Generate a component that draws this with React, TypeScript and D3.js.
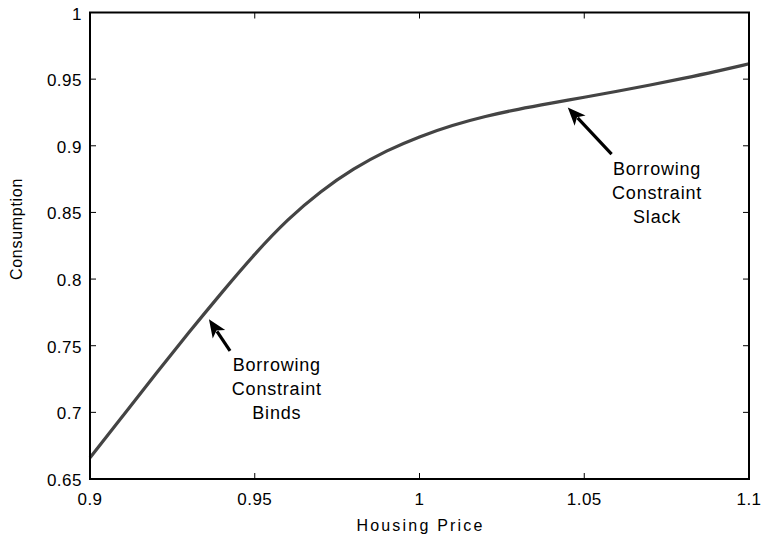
import React from "react";
import * as d3 from "d3";

const housingPrice = [0.90, 0.91, 0.92, 0.93, 0.94, 0.95, 0.96, 0.97, 0.98, 0.99, 1.00, 1.01, 1.02, 1.03, 1.04, 1.05, 1.06, 1.07, 1.08, 1.09, 1.10];
const consumption = [0.666, 0.6975, 0.729, 0.760, 0.790, 0.819, 0.845, 0.866, 0.883, 0.8965, 0.907, 0.9155, 0.9222, 0.9275, 0.932, 0.9364, 0.9409, 0.9456, 0.9505, 0.9557, 0.9615];
const xTicks = [0.9, 0.95, 1, 1.05, 1.1];
const yTicks = [0.65, 0.7, 0.75, 0.8, 0.85, 0.9, 0.95, 1];

const annotations = [
  { lines: ["Borrowing", "Constraint", "Binds"], tip: [0.9361, 0.7698], tail: [0.9425, 0.7462], text: [0.9567, 0.7312] },
  { lines: ["Borrowing", "Constraint", "Slack"], tip: [1.045, 0.9288], tail: [1.0583, 0.8938], text: [1.0721, 0.878] },
];

const W = 761, H = 535;
const M = { left: 90, right: 749, top: 12.5, bottom: 479 };
const FONT = "Liberation Sans, Arial, Helvetica, sans-serif";

export default function App() {
  const x = d3.scaleLinear().domain([0.9, 1.1]).range([M.left, M.right]);
  const y = d3.scaleLinear().domain([0.65, 1]).range([M.bottom, M.top]);
  const pts: [number, number][] = housingPrice.map((h, i) => [h, consumption[i]]);
  const line = d3.line<[number, number]>().x(d => x(d[0])).y(d => y(d[1])).curve(d3.curveBasis);
  const tl = 6;

  return (
    <svg width={W} height={H} style={{ position: "absolute", left: 0, top: 0, background: "#fff" }} fontFamily={FONT}>
      <rect x={0} y={0} width={W} height={H} fill="#fff" />
      {xTicks.map(t => (
        <g key={"x" + t}>
          <line x1={x(t)} x2={x(t)} y1={M.bottom} y2={M.bottom - tl} stroke="#000" strokeWidth={1} />
          <line x1={x(t)} x2={x(t)} y1={M.top} y2={M.top + tl} stroke="#000" strokeWidth={1} />
          <text x={x(t)} y={505} textAnchor="middle" fontSize={17} letterSpacing={0.5} fill="#000">{String(t)}</text>
        </g>
      ))}
      {yTicks.map(t => (
        <g key={"y" + t}>
          <line x1={M.left} x2={M.left + tl} y1={y(t)} y2={y(t)} stroke="#000" strokeWidth={1} />
          <line x1={M.right} x2={M.right - tl} y1={y(t)} y2={y(t)} stroke="#000" strokeWidth={1} />
          <text x={82} y={y(t) + 7} textAnchor="end" fontSize={17} letterSpacing={0.5} fill="#000">{String(t)}</text>
        </g>
      ))}
      <path d={line(pts) || ""} fill="none" stroke="#444" strokeWidth={3.2} />
      <rect x={M.left} y={M.top} width={M.right - M.left} height={M.bottom - M.top} fill="none" stroke="#000" strokeWidth={2} />
      <text x={(M.left + M.right) / 2 + 1} y={531} textAnchor="middle" fontSize={16} letterSpacing={2.2} fill="#000">Housing Price</text>
      <text transform={`translate(22,229) rotate(-90)`} textAnchor="middle" fontSize={16} letterSpacing={0.7} fill="#000">Consumption</text>
      {annotations.map((a, i) => {
        const tx = x(a.tip[0]), ty = y(a.tip[1]);
        const sx = x(a.tail[0]), sy = y(a.tail[1]);
        const dx = tx - sx, dy = ty - sy;
        const len = Math.hypot(dx, dy);
        const ux = dx / len, uy = dy / len;
        const hl = 18, hw = 7.5;
        const bx = tx - ux * hl, by = ty - uy * hl;
        const px = -uy, py = ux;
        const head = `M${tx},${ty}L${bx + px * hw},${by + py * hw}L${tx - ux * hl * 0.75},${ty - uy * hl * 0.75}L${bx - px * hw},${by - py * hw}Z`;
        return (
          <g key={i}>
            <line x1={sx} y1={sy} x2={tx - ux * hl * 0.8} y2={ty - uy * hl * 0.8} stroke="#000" strokeWidth={3.2} />
            <path d={head} fill="#000" />
            {a.lines.map((l, j) => (
              <text key={j} x={x(a.text[0])} y={y(a.text[1]) + j * 24} textAnchor="middle" fontSize={18} letterSpacing={0.8} fill="#000">{l}</text>
            ))}
          </g>
        );
      })}
    </svg>
  );
}
